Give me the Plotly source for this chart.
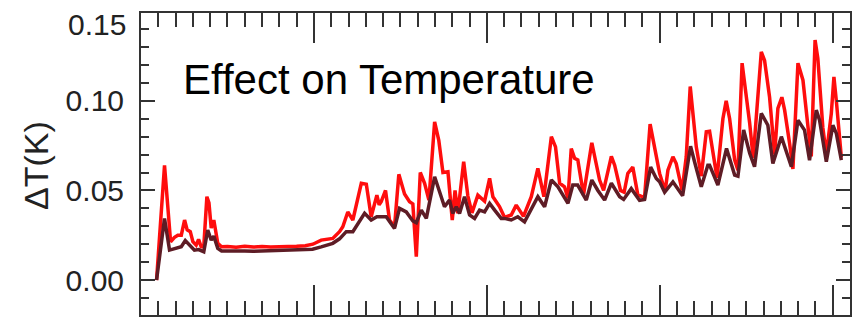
import plotly.graph_objects as go

# time in years (x) and temperature response in K (y)
red_t = [0.90, 1.36, 1.71, 1.94, 2.13, 2.33, 2.52, 2.67, 2.85, 3.00, 3.19, 3.33, 3.48, 3.63,
         3.81, 3.93, 4.06, 4.21, 4.44, 4.66,
         5.0, 5.5, 6.0, 6.5, 7.0, 7.5, 8.0, 8.5, 9.0, 9.5,
         9.94, 10.42, 11.09, 11.48, 11.67, 11.96, 12.25, 12.74, 13.03, 13.31, 13.64, 13.77,
         13.89, 14.14, 14.37, 14.66, 14.91, 15.24, 15.53, 15.72, 15.92, 16.15, 16.40, 16.65,
         16.98, 17.22, 17.46, 17.75, 18.00, 18.16, 18.32, 18.66, 18.90, 19.14, 19.48, 19.87,
         20.16, 20.35, 20.73, 21.02, 21.41, 21.70, 22.12, 22.57, 22.95, 23.30, 23.73, 23.97,
         24.21, 24.49, 24.69, 24.88, 25.07, 25.26, 25.59, 26.07, 26.26, 26.52, 26.75, 27.20,
         27.39, 27.73, 27.94, 28.15, 28.44, 28.73, 29.12, 29.44, 29.80, 29.99, 30.31, 30.47,
         30.76, 30.95, 31.29, 31.53, 31.76, 31.93, 32.11, 32.40, 32.69, 32.88, 33.07, 33.31,
         33.65, 33.84, 34.04, 34.33, 34.52, 34.76, 34.93, 35.20, 35.40, 35.87, 36.06, 36.35,
         36.64, 36.83, 37.06, 37.22, 37.51, 37.70, 37.99, 38.28, 38.57, 38.76, 38.98, 39.14,
         39.43, 39.63, 39.92, 40.07, 40.21, 40.50]
red_dT = [0.000, 0.064, 0.0214, 0.0238, 0.025, 0.025, 0.0335, 0.028, 0.027, 0.0214, 0.0195, 0.0227, 0.0186, 0.0186,
          0.0465, 0.043, 0.029, 0.0335, 0.0205, 0.0186,
          0.0187, 0.0183, 0.0188, 0.0184, 0.0187, 0.0184, 0.0186, 0.0185, 0.0188, 0.0192,
          0.0200, 0.0223, 0.0232, 0.0270, 0.0297, 0.0380, 0.0335, 0.0540, 0.0535, 0.0353, 0.0474, 0.0420,
          0.0437, 0.0500, 0.0335, 0.0297, 0.0590, 0.0480, 0.0437, 0.0425, 0.0130, 0.0600, 0.0540, 0.0446,
          0.0883, 0.0780, 0.0600, 0.0604, 0.0335, 0.0500, 0.0372, 0.0660, 0.0470, 0.0375, 0.0474, 0.0440,
          0.0567, 0.0465, 0.0410, 0.0350, 0.0363, 0.0418, 0.0355, 0.0465, 0.0623, 0.0465, 0.0800, 0.0743,
          0.0540, 0.0520, 0.0456, 0.0734, 0.0680, 0.0670, 0.0474, 0.0766, 0.0680, 0.0558, 0.0500, 0.0690,
          0.0641, 0.0500, 0.0490, 0.0595, 0.0630, 0.0475, 0.0460, 0.0870, 0.0690, 0.0595, 0.0495, 0.0613,
          0.0688, 0.0650, 0.0500, 0.0688, 0.1080, 0.0930, 0.0743, 0.0580, 0.0827, 0.0830, 0.0707, 0.0570,
          0.0900, 0.1000, 0.0900, 0.0670, 0.0613, 0.1210, 0.1080, 0.0874, 0.0680, 0.1273, 0.1225, 0.1020,
          0.0700, 0.0958, 0.1020, 0.0948, 0.0760, 0.0620, 0.1210, 0.1115, 0.0855, 0.0690, 0.1339, 0.1237,
          0.0850, 0.0700, 0.0930, 0.1134, 0.1000, 0.0685]

dark_t = [0.90, 1.36, 1.65, 1.94, 2.33, 2.56, 2.81, 3.09, 3.33, 3.63, 3.86, 4.06, 4.21, 4.44, 4.66,
          5.0, 5.5, 6.0, 6.5, 7.0, 7.5, 8.0, 8.5, 9.0, 9.5,
          9.92, 10.42, 11.09, 11.48, 11.87, 12.25, 12.93, 13.31, 13.64, 14.18, 14.66, 14.95,
          15.34, 15.72, 15.92, 16.21, 16.50, 16.98, 17.26, 17.55, 17.84, 18.03, 18.23, 18.42,
          18.71, 19.00, 19.29, 19.58, 19.87, 20.16, 20.45, 20.83, 21.02, 21.41, 21.79, 22.18,
          22.95, 23.34, 23.73, 24.11, 24.69, 24.97, 25.25, 25.75, 26.07, 26.42, 26.81, 27.20,
          27.68, 27.91, 28.35, 28.83, 29.12, 29.47, 29.80, 29.99, 30.28, 30.76, 31.32, 31.78,
          32.01, 32.40, 32.78, 32.88, 33.36, 33.86, 34.33, 34.52, 34.85, 35.20, 35.48, 35.87,
          36.25, 36.54, 37.03, 37.61, 37.99, 38.37, 38.66, 39.05, 39.24, 39.63, 40.01, 40.21, 40.50]
dark_dT = [0.000, 0.0344, 0.0167, 0.0173, 0.0186, 0.0220, 0.0195, 0.0167, 0.0170, 0.0158, 0.0279, 0.0223, 0.0245, 0.0177, 0.0162,
           0.0163, 0.0160, 0.0162, 0.0160, 0.0162, 0.0161, 0.0162, 0.0163, 0.0165, 0.0168,
           0.0172, 0.0185, 0.0205, 0.0230, 0.0270, 0.0270, 0.0372, 0.0335, 0.0353, 0.0353, 0.0288, 0.0400,
           0.0380, 0.0330, 0.0320, 0.0390, 0.0344, 0.0576, 0.0500, 0.0409, 0.0446, 0.0372, 0.0409, 0.0372,
           0.0465, 0.0363, 0.0344, 0.0390, 0.0380, 0.0428, 0.0390, 0.0344, 0.0344, 0.0335, 0.0353, 0.0325,
           0.0465, 0.0409, 0.0558, 0.0520, 0.0428, 0.0530, 0.0530, 0.0446, 0.0558, 0.0500, 0.0446, 0.0540,
           0.0465, 0.0450, 0.0510, 0.0445, 0.0450, 0.0630, 0.0567, 0.0548, 0.0490, 0.0548, 0.0470, 0.0747,
           0.0660, 0.0520, 0.0641, 0.0641, 0.0530, 0.0734, 0.0586, 0.0580, 0.0837, 0.0707, 0.0632, 0.0930,
           0.0864, 0.0650, 0.0800, 0.0632, 0.0892, 0.0837, 0.0669, 0.0948, 0.0892, 0.0660, 0.0864, 0.0818, 0.0669]

y_tickvals = [0.00, 0.05, 0.10]
y_ticktext = ["0.00", "0.05", "0.10"]
top_label = "0.15"
title_text = "Effect on Temperature"
y_title = "ΔT(K)"

FONT = "Liberation Sans, Arial, sans-serif"
AXC = "#333333"

fig = go.Figure()
fig.add_trace(go.Scatter(x=red_t, y=red_dT, mode="lines",
                         line=dict(color="#ff0d0d", width=3.5), showlegend=False))
fig.add_trace(go.Scatter(x=dark_t, y=dark_dT, mode="lines",
                         line=dict(color="#5e1c25", width=3.5), showlegend=False))

fig.update_layout(
    width=862, height=320,
    margin=dict(l=141, r=12, t=13, b=5),
    paper_bgcolor="white", plot_bgcolor="white",
    font=dict(family=FONT, color="#222222"),
    xaxis=dict(range=[0, 41], showgrid=False, zeroline=False,
               showline=True, linewidth=2, linecolor=AXC, mirror="ticks",
               ticks="inside", tickmode="linear", tick0=0, dtick=10,
               ticklen=30, tickwidth=2, tickcolor=AXC, showticklabels=False,
               minor=dict(ticks="inside", dtick=1, tick0=0, ticklen=14,
                          tickwidth=2, tickcolor=AXC, showgrid=False)),
    yaxis=dict(range=[-0.0195, 0.149], showgrid=False, zeroline=False,
               showline=True, linewidth=2, linecolor=AXC, mirror="ticks",
               ticks="inside", tickmode="array", tickvals=y_tickvals, ticktext=y_ticktext,
               ticklen=14, tickwidth=2, tickcolor=AXC,
               tickfont=dict(size=30, family=FONT, color="#222222"),
               ticklabelstandoff=9,
               minor=dict(ticks="inside", dtick=0.01, tick0=0, ticklen=8,
                          tickwidth=2, tickcolor=AXC, showgrid=False)),
)

fig.add_annotation(text=top_label, xref="paper", yref="paper",
                   x=-0.018, y=(315 - 25) / 302, xanchor="right", yanchor="middle",
                   showarrow=False, font=dict(size=30, family=FONT, color="#222222"))
fig.add_annotation(text=title_text, xref="paper", yref="paper",
                   x=(181 - 141) / 709, y=(315 - 79) / 302, xanchor="left", yanchor="middle",
                   showarrow=False, font=dict(size=42, family=FONT, color="#000000"))
fig.add_annotation(text=y_title, xref="paper", yref="paper", textangle=-90,
                   x=(36 - 141) / 709, y=(315 - 166) / 302, xanchor="center", yanchor="middle",
                   showarrow=False, font=dict(size=34, family=FONT, color="#222222"))

fig.write_html("out.html")
